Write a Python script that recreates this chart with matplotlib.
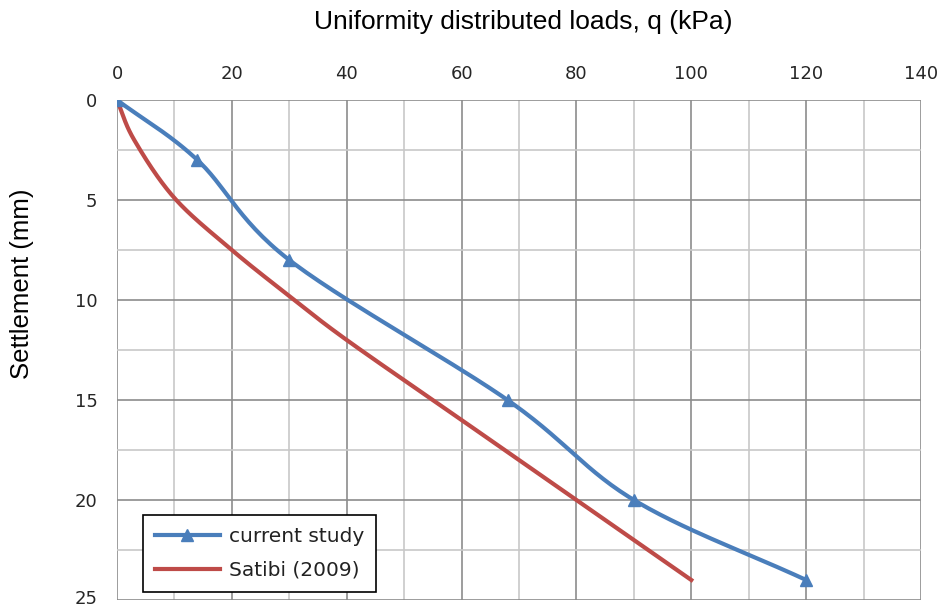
import numpy as np
import matplotlib.pyplot as plt
import matplotlib.transforms as mtransforms
from matplotlib.ticker import MultipleLocator

# --- Datos ---
carga_estudio = [0, 14, 30, 68, 90, 120]        # q (kPa)
asiento_estudio = [0, 3, 8, 15, 20, 24]         # asiento (mm)

carga_satibi = [0, 3, 10, 20, 30, 40, 60, 80, 100]
asiento_satibi = [0, 2.0, 4.9, 7.5, 9.8, 12, 16, 20, 24]

x_ticks = [0, 20, 40, 60, 80, 100, 120, 140]
y_ticks = [0, 5, 10, 15, 20, 25]


def suavizar(xs, ys, n=30):
    # curva Catmull-Rom por los puntos, como la línea suavizada de Excel
    p = np.column_stack([xs, ys]).astype(float)
    p = np.vstack([2 * p[0] - p[1], p, 2 * p[-1] - p[-2]])
    out = []
    t = np.linspace(0, 1, n, endpoint=False)[:, None]
    for i in range(1, len(p) - 2):
        p0, p1, p2, p3 = p[i - 1], p[i], p[i + 1], p[i + 2]
        seg = 0.5 * ((2 * p1) + (-p0 + p2) * t
                     + (2 * p0 - 5 * p1 + 4 * p2 - p3) * t ** 2
                     + (-p0 + 3 * p1 - 3 * p2 + p3) * t ** 3)
        out.append(seg)
    out.append(p[-2][None, :])
    c = np.vstack(out)
    return c[:, 0], c[:, 1]


azul = "#4a7ebb"
rojo = "#be4b48"

fig = plt.figure(figsize=(9.46, 6.07), dpi=100)
ax = fig.add_axes([117 / 946, 7 / 607, 804 / 946, 500 / 607])

xs, ys = suavizar(carga_estudio, asiento_estudio)
ax.plot(xs, ys, color=azul, lw=3, zorder=3)
ax.plot(carga_estudio, asiento_estudio, ls="none", marker="^", ms=9,
        color=azul, zorder=4)
ax.plot([], [], color=azul, lw=3, marker="^", ms=8, label="current study")

xr, yr = suavizar(carga_satibi, asiento_satibi)
ax.plot(xr, yr, color=rojo, lw=3, zorder=3, label="Satibi (2009)")

ax.set_xlim(0, 140)
ax.set_ylim(25, 0)
ax.set_xticks(x_ticks)
ax.set_yticks(y_ticks)
ax.xaxis.set_minor_locator(MultipleLocator(10))
ax.yaxis.set_minor_locator(MultipleLocator(2.5))
ax.xaxis.tick_top()
ax.grid(which="major", color="#8c8c8c", lw=1.2)
ax.grid(which="minor", color="#c8c8c8", lw=1.2)
ax.set_axisbelow(True)
for s in ax.spines.values():
    s.set_visible(False)
ax.tick_params(axis="x", which="both", length=0, pad=12)
ax.tick_params(axis="y", which="both", length=0, pad=14)
for lab in ax.get_xticklabels() + ax.get_yticklabels():
    lab.set_fontfamily("DejaVu Sans")
    lab.set_fontsize(13)
    lab.set_color("#262626")

# subir un poco la última etiqueta del eje y para que no quede cortada
ultima = ax.get_yticklabels()[-1]
ultima.set_transform(ultima.get_transform() +
                     mtransforms.ScaledTranslation(0, 3 / 100,
                                                   fig.dpi_scale_trans))

fig.text(523 / 946, 1 - 22 / 607, "Uniformity distributed loads, q (kPa)",
         family="Liberation Sans", fontsize=19, ha="center", va="center")
fig.text(22 / 946, 1 - 284 / 607, "Settlement (mm)", family="Liberation Sans",
         fontsize=18.5, rotation=90, ha="center", va="center")

leg = ax.legend(loc="lower left", bbox_to_anchor=(26 / 804, 8 / 500),
                frameon=True, fancybox=False, framealpha=1, edgecolor="black",
                prop={"family": "DejaVu Sans", "size": 14.5},
                handlelength=3.2, handletextpad=0.45, borderpad=0.6,
                labelspacing=0.75, borderaxespad=0)
leg.get_frame().set_linewidth(1.2)
for txt in leg.get_texts():
    txt.set_color("#222222")

fig.savefig("out.png", dpi=100)
